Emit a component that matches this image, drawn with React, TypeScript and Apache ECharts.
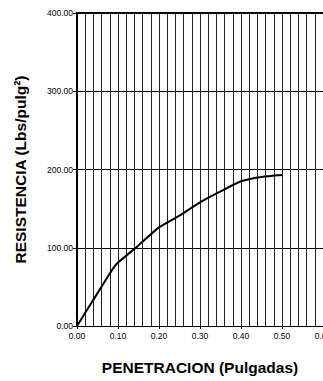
import React, { useEffect, useRef } from "react";
import * as echarts from "echarts";

const penetration = [0, 0.025, 0.05, 0.075, 0.09, 0.1, 0.15, 0.2, 0.25, 0.3, 0.35, 0.4, 0.45, 0.5];
const resistance = [0, 21, 42, 63, 75, 81, 103, 126, 141, 158, 172, 185, 190.5, 193];
const xTitle = "PENETRACION (Pulgadas)";
const yTitle = "RESISTENCIA (Lbs/pulg²)";

export default function App() {
  const ref = useRef<HTMLDivElement>(null);
  useEffect(() => {
    document.body.style.margin = "0";
    const chart = echarts.init(ref.current!, null, { renderer: "svg" });
    const font = "Liberation Sans, Arial, sans-serif";
    chart.setOption({
      animation: false,
      backgroundColor: "#ffffff",
      grid: { left: 77, right: 0, top: 13, bottom: 55, containLabel: false, outerBoundsMode: "none" },
      xAxis: [
        {
          type: "value",
          min: 0,
          max: 0.6,
          interval: 0.02,
          axisLine: { show: false },
          axisTick: { show: false },
          axisLabel: { show: false },
          splitLine: { show: true, lineStyle: { color: "#222", width: 1 } },
        },
        {
          type: "value",
          min: 0,
          max: 0.6,
          interval: 0.1,
          position: "bottom",
          name: xTitle,
          nameLocation: "middle",
          nameGap: 33,
          nameTextStyle: { fontFamily: font, fontWeight: "bold", fontSize: 15.5, color: "#000" },
          axisLine: { show: true, lineStyle: { color: "#000", width: 1 } },
          axisTick: { show: true, length: 3, inside: false, lineStyle: { color: "#000" } },
          axisLabel: {
            fontFamily: font,
            fontSize: 8.5,
            color: "#000",
            margin: 5,
            formatter: (v: number) => v.toFixed(2),
          },
          splitLine: { show: false },
        },
        {
          type: "value",
          min: 0,
          max: 0.6,
          position: "top",
          axisLine: { show: true, lineStyle: { color: "#000", width: 2 } },
          axisTick: { show: false },
          axisLabel: { show: false },
          splitLine: { show: false },
        },
      ],
      yAxis: {
        type: "value",
        min: 0,
        max: 400,
        interval: 100,
        name: yTitle,
        nameLocation: "middle",
        nameGap: 49,
        nameTextStyle: { fontFamily: font, fontWeight: "bold", fontSize: 15.5, color: "#000" },
        axisLine: { show: true, lineStyle: { color: "#000", width: 2 } },
        axisTick: { show: true, length: 4, lineStyle: { color: "#000" } },
        axisLabel: {
          fontFamily: font,
          fontSize: 8.5,
          color: "#000",
          margin: 4,
          formatter: (v: number) => v.toFixed(2),
        },
        splitLine: { show: true, lineStyle: { color: "#000", width: 1 } },
      },
      series: [
        {
          type: "line",
          xAxisIndex: 0,
          data: penetration.map((p, i) => [p, resistance[i]]),
          showSymbol: false,
          smooth: 0.2,
          lineStyle: { color: "#000", width: 2 },
        },
      ],
    });
    return () => chart.dispose();
  }, []);
  return <div ref={ref} style={{ width: 323, height: 381 }} />;
}
